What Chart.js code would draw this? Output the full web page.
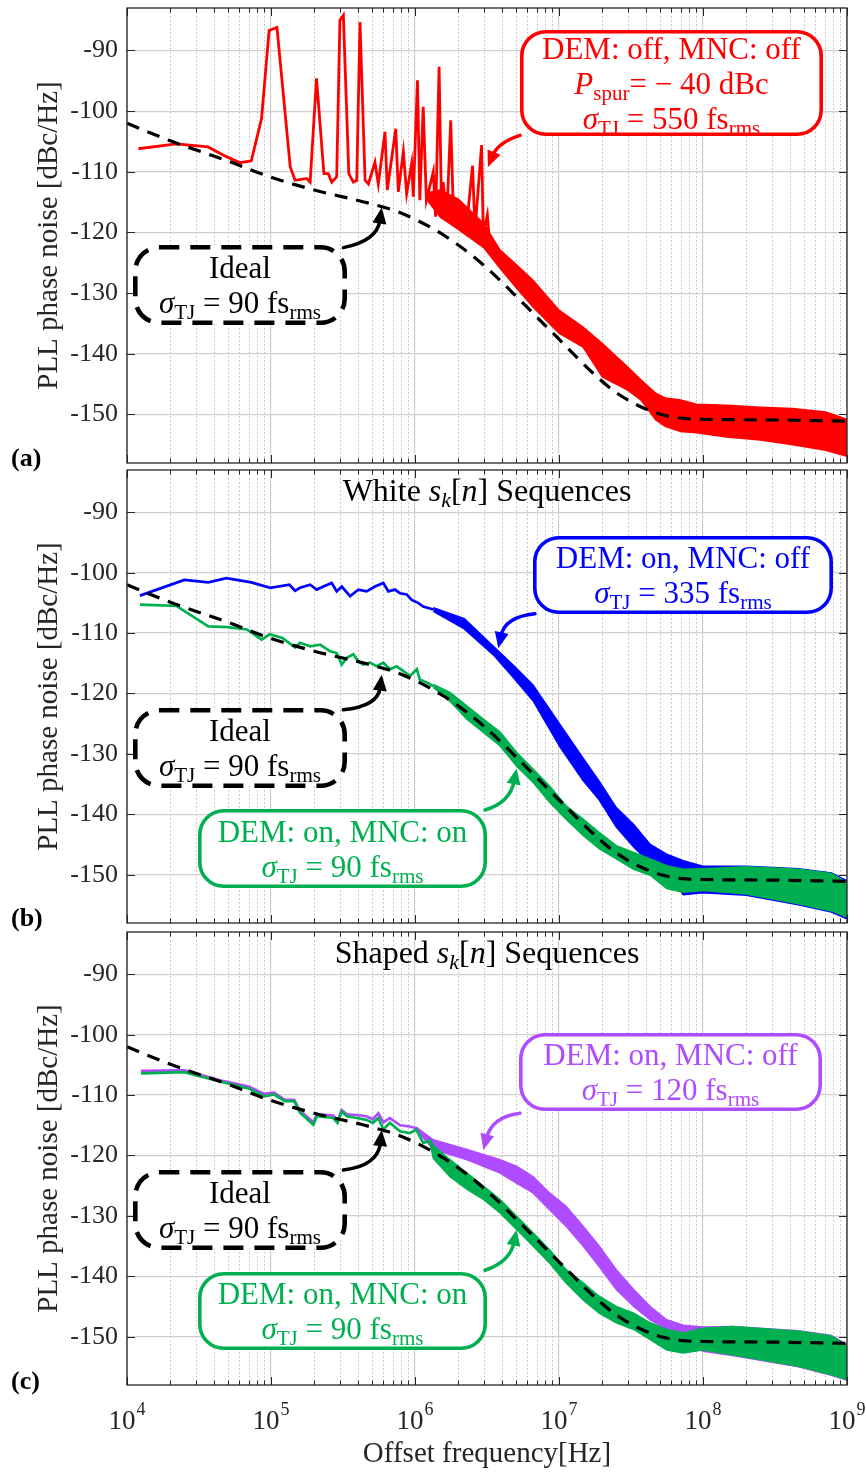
<!DOCTYPE html>
<html><head><meta charset="utf-8">
<script src="https://cdn.jsdelivr.net/npm/chart.js@4.4.0/dist/chart.umd.min.js"></script>
<style>
html,body{margin:0;padding:0;background:#fff;}
#page{position:relative;width:866px;height:1473px;overflow:hidden;font-family:"Liberation Serif","Times New Roman",serif;}
canvas{position:absolute;left:0;}
.box{position:absolute;box-sizing:border-box;display:flex;flex-direction:column;justify-content:center;align-items:center;font-size:31px;line-height:35px;white-space:nowrap;}
.box svg{position:absolute;left:0;top:0;overflow:visible;}
.box .l{position:relative;}
.sb{font-size:0.68em;vertical-align:-0.28em;line-height:0;}
.lbl{position:absolute;left:11px;font-weight:bold;font-size:26px;line-height:30px;color:#000;}
.ttl{position:absolute;left:127px;width:720px;text-align:center;font-size:32px;line-height:34px;color:#000;}
</style></head>
<body><div id="page">
<canvas id="ca" width="866" height="466" style="top:0px"></canvas>
<canvas id="cb" width="866" height="462" style="top:466px"></canvas>
<canvas id="cc" width="866" height="545" style="top:928px"></canvas>
<div class="ttl" style="top:473px">White <i>s</i><span class="sb"><i>k</i></span>[<i>n</i>] Sequences</div>
<div class="ttl" style="top:935px">Shaped <i>s</i><span class="sb"><i>k</i></span>[<i>n</i>] Sequences</div>
<div class="lbl" style="top:443px">(a)</div>
<div class="lbl" style="top:903px">(b)</div>
<div class="lbl" style="top:1366px">(c)</div>
</div>
<script>
// ---------- axes ----------
const xMajorTicks = [1e4, 1e5, 1e6, 1e7, 1e8, 1e9];
const xMinorSteps = [2, 3, 4, 5, 6, 7, 8, 9];
const yTicks = [-150, -140, -130, -120, -110, -100, -90];
const yMin = -158, yMax = -83;

// ---------- ideal (dashed black, same in all panels) ----------
const idealFreq = [1e4, 2e4, 5e4, 1e5, 2e5, 5e5, 8e5, 1.6e6, 3e6, 5.6e6, 1e7, 1.8e7, 2.5e7, 3.6e7, 5.3e7, 7.7e7, 1e8, 3e8, 1e9];
const idealDb   = [-102, -104.9, -108.2, -110.9, -113, -115.3, -116.8, -120.5, -125.4, -131.6, -137.6, -143.6, -146.4, -148.6, -150.1, -150.7, -150.8, -150.9, -151.1];

// ---------- panel (a): DEM off, MNC off (red) ----------
const redLineFreq = [1.2e4, 2.2e4, 3.65e4, 4.9e4, 6.1e4, 7.3e4, 8.6e4, 9.7e4, 1.1e5, 1.36e5, 1.47e5, 1.77e5, 1.87e5, 2.07e5, 2.33e5, 2.5e5, 2.64e5, 2.86e5, 3.01e5, 3.18e5, 3.47e5, 3.73e5, 3.94e5, 4.15e5, 4.5e5, 4.75e5, 5.27e5, 5.56e5, 6.19e5, 6.42e5, 7.35e5, 7.66e5, 8.3e5, 8.75e5, 9.48e5, 9.73e5, 1.04e6, 1.08e6, 1.14e6, 1.2e6, 1.34e6, 1.39e6, 1.47e6, 1.53e6, 1.57e6, 1.66e6, 1.77e6, 1.85e6, 2.16e6, 2.28e6, 2.51e6, 2.61e6, 2.9e6, 2.98e6, 3.18e6, 3.31e6];
const redLineDb   = [-106.2, -105.4, -105.9, -107.5, -108.5, -108.2, -101.2, -86.7, -86.2, -109.2, -111.4, -111.1, -111.7, -94.6, -110.3, -110.3, -111.7, -110.8, -85.0, -84.2, -110.3, -111.7, -111.4, -85.3, -111.4, -112.0, -108.4, -112.0, -103.4, -113.0, -102.9, -113.3, -106.7, -113.6, -108.6, -114.1, -94.9, -114.7, -99.3, -114.7, -110.0, -117.4, -92.7, -116.9, -111.7, -118.0, -101.5, -117.4, -115.8, -119.1, -109.0, -119.7, -105.6, -120.3, -117.1, -122.2];
const redBandFreq = [1.2e6, 1.5e6, 2e6, 3e6, 3.9e6, 5e6, 6.6e6, 1e7, 1.47e7, 2e7, 3e7, 3.7e7, 4.7e7, 5.5e7, 7e7, 9e7, 1.46e8, 2.5e8, 4.2e8, 7.1e8, 1e9];
const redBandHi   = [-113.5, -113, -114.5, -118.5, -122.9, -125.2, -127.9, -132.8, -135.6, -138.3, -142.2, -144.3, -146.5, -147.3, -147.6, -148.3, -148.5, -148.8, -149.0, -149.6, -150.8];
const redBandLo   = [-114.5, -117.5, -119.5, -122.5, -125.9, -129, -132.3, -136.6, -138.9, -143.8, -146, -147.6, -150.9, -152, -152.8, -153, -153.7, -154.2, -155, -155.9, -156.9];

// ---------- panel (b): white sequences ----------
const blueLineFreq = [1.23e4, 2.5e4, 3.67e4, 4.9e4, 7.3e4, 9.9e4, 1.34e5, 1.47e5, 1.59e5, 1.87e5, 2.08e5, 2.31e5, 2.64e5, 2.86e5, 3.1e5, 3.54e5, 4.04e5, 4.61e5, 5.27e5, 6.03e5, 6.53e5, 7.27e5, 7.87e5, 8.75e5, 9.49e5, 1.05e6, 1.14e6, 1.34e6];
const blueLineDb   = [-103.8, -101.2, -101.6, -100.9, -101.6, -102.5, -102.0, -103.0, -102.5, -102.0, -102.8, -102.3, -101.7, -103.1, -102.3, -103.9, -102.8, -103.1, -102.3, -101.7, -103.1, -102.8, -103.4, -103.6, -104.5, -105.0, -105.6, -106.1];
const blueBandFreq = [1.34e6, 2.2e6, 3.5e6, 4.8e6, 6.6e6, 1.02e7, 1.47e7, 1.9e7, 2.5e7, 3.3e7, 4.3e7, 5.6e7, 7.3e7, 1e8, 2e8, 4.6e8, 7.8e8, 1e9];
const blueBandHi   = [-105.8, -107.6, -112.2, -115.3, -118.6, -125.2, -130.7, -134.5, -138.9, -141.7, -145.0, -146.6, -147.7, -148.6, -148.6, -149.0, -149.7, -151.0];
const blueBandLo   = [-106.4, -109.3, -113.6, -117.3, -121.2, -128.9, -134.4, -137.6, -142.1, -145.4, -148.1, -149.7, -153.3, -153.0, -153.4, -155.0, -156.2, -157.3];

const greenBLineFreq = [1.23e4, 2.2e4, 3.67e4, 5e4, 6.8e4, 8.6e4, 9.8e4, 1.2e5, 1.47e5, 1.59e5, 1.87e5, 2.19e5, 2.57e5, 2.86e5, 3.1e5, 3.36e5, 3.73e5, 4.04e5, 4.37e5, 4.87e5, 5.42e5, 6.03e5, 6.7e5, 7.46e5, 8.3e5, 9.23e5, 1.03e6, 1.08e6, 1.21e6, 1.34e6];
const greenBLineDb   = [-105.3, -105.5, -108.9, -109.0, -109.4, -111.1, -110.2, -110.8, -112.4, -111.6, -112.2, -111.9, -113.0, -113.3, -115.2, -114.1, -113.5, -114.7, -115.2, -114.9, -115.5, -114.9, -116.0, -115.5, -116.3, -117.1, -116.0, -117.7, -118.2, -118.8];
const greenBBandFreq = [1.34e6, 1.75e6, 2.3e6, 3e6, 3.9e6, 5.1e6, 6.6e6, 8.6e6, 1.12e7, 1.47e7, 1.9e7, 2.5e7, 3.3e7, 4.3e7, 5.6e7, 7.3e7, 1e8, 2e8, 4.6e8, 7.8e8, 1e9];
const greenBBandHi   = [-118.5, -119.8, -122.1, -124.3, -126.4, -129.8, -132.5, -135.3, -138.6, -140.8, -143.0, -145.2, -146.3, -147.4, -148.5, -149.1, -149.0, -148.7, -149.1, -149.8, -151.3];
const greenBBandLo   = [-119.0, -121.3, -124.3, -126.5, -128.7, -132.1, -134.7, -138.0, -140.8, -143.5, -145.7, -147.4, -149.1, -150.1, -152.3, -152.9, -152.6, -153.2, -154.8, -156.0, -157.0];

// ---------- panel (c): shaped sequences ----------
const purpleLineFreq = [1.25e4, 2.5e4, 4.5e4, 7e4, 9e4, 1.05e5, 1.25e5, 1.45e5, 1.59e5, 1.97e5, 2.08e5, 2.7e5, 2.9e5, 3.1e5, 3.36e5, 3.94e5, 4.6e5, 5.1e5, 5.56e5, 6.03e5, 6.7e5, 7.87e5, 9.2e5, 1.02e6];
const purpleLineDb   = [-106.0, -105.9, -107.6, -108.6, -109.8, -109.6, -110.8, -110.8, -112.6, -114.5, -113.2, -113.4, -114.2, -112.5, -113.2, -113.3, -113.5, -114.0, -113.0, -114.5, -113.8, -115.0, -115.2, -115.5];
const purpleBandFreq = [1.02e6, 1.34e6, 2.3e6, 3.9e6, 5.1e6, 6.6e6, 8.6e6, 1.12e7, 1.47e7, 1.9e7, 2.5e7, 3.3e7, 4.3e7, 5.6e7, 7.3e7, 1e8, 1.6e8, 4.6e8, 7.8e8, 1e9];
const purpleBandHi   = [-115.3, -117.4, -119.0, -120.7, -121.8, -123.5, -126.2, -128.4, -131.7, -135.0, -138.9, -142.2, -145.0, -147.2, -148.1, -148.4, -148.3, -149.0, -149.8, -151.3];
const purpleBandLo   = [-115.8, -119.0, -120.7, -122.9, -124.6, -126.2, -129.0, -131.7, -135.0, -138.4, -142.2, -145.0, -147.2, -148.8, -150.7, -152.4, -153.1, -155.0, -156.4, -157.2];

const greenCLineFreq = [1.25e4, 2.5e4, 4.5e4, 7e4, 9e4, 1.05e5, 1.25e5, 1.45e5, 1.59e5, 1.97e5, 2.08e5, 2.7e5, 2.9e5, 3.1e5, 3.36e5, 3.94e5, 4.6e5, 5.1e5, 5.56e5, 6.03e5, 6.7e5, 7.87e5, 9.2e5, 1.02e6, 1.14e6, 1.27e6];
const greenCLineDb   = [-106.4, -106.2, -107.8, -108.9, -110.2, -109.9, -111.0, -111.0, -112.9, -114.9, -113.5, -113.8, -114.6, -112.7, -113.5, -113.8, -114.1, -114.6, -113.8, -115.7, -114.6, -116.0, -116.3, -115.7, -117.9, -117.6];
const greenCBandFreq = [1.27e6, 1.34e6, 1.75e6, 2.3e6, 3e6, 3.9e6, 5.1e6, 6.6e6, 8.6e6, 1.12e7, 1.47e7, 1.9e7, 2.5e7, 3.3e7, 4.3e7, 5.6e7, 7.3e7, 1e8, 1.6e8, 4.6e8, 7.8e8, 1e9];
const greenCBandHi   = [-117.3, -118.3, -120.7, -122.9, -125.1, -127.3, -130.1, -132.8, -135.6, -138.9, -141.1, -143.3, -145.0, -146.1, -147.7, -148.8, -149.4, -148.6, -148.3, -149.1, -149.9, -151.5];
const greenCBandLo   = [-117.9, -120.5, -123.5, -125.6, -127.3, -129.5, -132.3, -135.0, -137.8, -141.1, -143.9, -146.1, -147.7, -148.8, -150.5, -152.2, -152.7, -152.2, -153.0, -154.9, -156.3, -157.1];

// ---------- colours ----------
const RED = '#ff0000', BLUE = '#0000ff', GREEN = '#00b050', PURPLE = '#b04cff', BLACK = '#000000';
const FONT = '"Liberation Serif", "Times New Roman", serif';

// ---------- helpers ----------
function pts(fs, ds) { return fs.map((f, i) => ({x: f, y: ds[i]})); }
function trace(color, lf, ld, bf, bh, bl, order, lw) {
  return [
    {data: pts(lf, ld), borderColor: color, borderWidth: lw, order},
    {data: pts(bf, bh), borderColor: color, borderWidth: 1.5, order},
    {data: pts(bf, bl), borderColor: color, borderWidth: 1.5, fill: '-1', backgroundColor: color, order}
  ];
}
function idealSet() {
  return {data: pts(idealFreq, idealDb), borderColor: BLACK, borderWidth: 3.2, borderDash: [13, 9], cubicInterpolationMode: 'monotone', order: 0};
}

function makeDecor(arrows, xLabels) {
  return {
    id: 'decor',
    beforeDatasetsDraw(chart) {
      const {ctx, chartArea: a, scales: {x}} = chart;
      ctx.save();
      ctx.strokeStyle = '#bdbdbd'; ctx.lineWidth = 1; ctx.setLineDash([1.5, 2.5]);
      for (let i = 0; i < xMajorTicks.length - 1; i++) {
        for (const k of xMinorSteps) {
          const p = Math.round(x.getPixelForValue(k * xMajorTicks[i])) + 0.5;
          ctx.beginPath(); ctx.moveTo(p, a.top); ctx.lineTo(p, a.bottom); ctx.stroke();
        }
      }
      ctx.restore();
    },
    afterDraw(chart) {
      const {ctx, chartArea: a, scales: {x, y}} = chart;
      ctx.save();
      ctx.strokeStyle = '#262626'; ctx.lineWidth = 1.3; ctx.setLineDash([]);
      ctx.strokeRect(a.left, a.top, a.width, a.height);
      ctx.lineWidth = 1;
      ctx.beginPath();
      for (let i = 0; i < xMajorTicks.length; i++) {
        const p = Math.round(x.getPixelForValue(xMajorTicks[i])) + 0.5;
        ctx.moveTo(p, a.bottom); ctx.lineTo(p, a.bottom - 8);
        ctx.moveTo(p, a.top); ctx.lineTo(p, a.top + 8);
        if (i < xMajorTicks.length - 1) {
          for (const k of xMinorSteps) {
            const q = Math.round(x.getPixelForValue(k * xMajorTicks[i])) + 0.5;
            ctx.moveTo(q, a.bottom); ctx.lineTo(q, a.bottom - 4.5);
            ctx.moveTo(q, a.top); ctx.lineTo(q, a.top + 4.5);
          }
        }
      }
      for (const v of yTicks) {
        const p = Math.round(y.getPixelForValue(v)) + 0.5;
        ctx.moveTo(a.left, p); ctx.lineTo(a.left + 8, p);
        ctx.moveTo(a.right, p); ctx.lineTo(a.right - 8, p);
      }
      ctx.stroke();
      for (const ar of arrows) {
        const p0 = [x.getPixelForValue(ar.from[0]), y.getPixelForValue(ar.from[1])];
        const c = [x.getPixelForValue(ar.ctrl[0]), y.getPixelForValue(ar.ctrl[1])];
        const p2 = [x.getPixelForValue(ar.to[0]), y.getPixelForValue(ar.to[1])];
        const ang = Math.atan2(p2[1] - c[1], p2[0] - c[0]);
        const L = 16, W = 7;
        const e = [p2[0] - Math.cos(ang) * L * 0.8, p2[1] - Math.sin(ang) * L * 0.8];
        ctx.strokeStyle = ar.color; ctx.fillStyle = ar.color; ctx.lineWidth = 3.5; ctx.lineCap = 'round';
        ctx.beginPath(); ctx.moveTo(p0[0], p0[1]); ctx.quadraticCurveTo(c[0], c[1], e[0], e[1]); ctx.stroke();
        const bx = p2[0] - Math.cos(ang) * L, by = p2[1] - Math.sin(ang) * L;
        ctx.beginPath();
        ctx.moveTo(p2[0], p2[1]);
        ctx.lineTo(bx + Math.sin(ang) * W, by - Math.cos(ang) * W);
        ctx.lineTo(bx - Math.sin(ang) * W, by + Math.cos(ang) * W);
        ctx.closePath(); ctx.fill();
      }
      if (xLabels) {
        ctx.fillStyle = '#262626'; ctx.textAlign = 'left'; ctx.textBaseline = 'alphabetic';
        for (const v of xMajorTicks) {
          const ex = String(Math.round(Math.log10(v)));
          ctx.font = '27px ' + FONT; const w1 = ctx.measureText('10').width;
          ctx.font = '18px ' + FONT; const w2 = ctx.measureText(ex).width;
          const s = x.getPixelForValue(v) - (w1 + w2 + 1) / 2;
          ctx.font = '27px ' + FONT; ctx.fillText('10', s, a.bottom + 44);
          ctx.font = '18px ' + FONT; ctx.fillText(ex, s + w1 + 1, a.bottom + 30);
        }
      }
      ctx.restore();
    }
  };
}

function makeChart(id, padTop, xAxisH, datasets, arrows, showX) {
  return new Chart(document.getElementById(id), {
    type: 'line',
    data: {datasets},
    options: {
      responsive: false, animation: false, devicePixelRatio: 1,
      layout: {padding: {top: padTop, left: 0, right: 19, bottom: 0}},
      plugins: {legend: {display: false}, tooltip: {enabled: false}},
      elements: {point: {radius: 0}, line: {tension: 0}},
      scales: {
        x: {
          type: 'logarithmic', min: 1e4, max: 1e9,
          afterBuildTicks: s => { s.ticks = xMajorTicks.map(v => ({value: v})); },
          ticks: {display: false},
          grid: {color: '#d0d0d0', lineWidth: 1.2, drawTicks: false},
          border: {display: false},
          title: showX ? {display: true, text: 'Offset frequency[Hz]', color: '#262626', font: {family: FONT, size: 29}, padding: {top: 0, bottom: 1}} : {display: false},
          afterFit: s => { s.height = xAxisH; s.paddingLeft = 0; s.paddingRight = 0; }
        },
        y: {
          type: 'linear', min: yMin, max: yMax,
          afterBuildTicks: s => { s.ticks = yTicks.map(v => ({value: v})); },
          ticks: {color: '#262626', font: {family: FONT, size: 26}, padding: 9, callback: v => String(v)},
          grid: {color: '#d0d0d0', lineWidth: 1.2, drawTicks: false},
          border: {display: false},
          title: {display: true, text: 'PLL phase noise [dBc/Hz]', color: '#262626', font: {family: FONT, size: 29}, padding: {top: 32, bottom: 0}},
          afterFit: s => { s.width = 127; s.paddingTop = 0; s.paddingBottom = 0; }
        }
      }
    },
    plugins: [makeDecor(arrows, showX)]
  });
}

// ---------- panels ----------
makeChart('ca', 8, 3,
  [idealSet()].concat(trace(RED, redLineFreq, redLineDb, redBandFreq, redBandHi, redBandLo, 1, 2.8)),
  [{from: [5.36e6, -104.0], ctrl: [3.77e6, -105.2], to: [3.21e6, -109.2], color: RED},
   {from: [3.18e5, -122.5], ctrl: [5.45e5, -121.4], to: [5.87e5, -115.9], color: BLACK}],
  false);

makeChart('cb', 4, 5,
  [idealSet()]
    .concat(trace(GREEN, greenBLineFreq, greenBLineDb, greenBBandFreq, greenBBandHi, greenBBandLo, 1, 2.7))
    .concat(trace(BLUE, blueLineFreq, blueLineDb, blueBandFreq, blueBandHi, blueBandLo, 2, 2.7)),
  [{from: [6.81e6, -106.8], ctrl: [4.22e6, -107.3], to: [3.79e6, -112.5], color: BLUE},
   {from: [3.18e5, -122.7], ctrl: [5.54e5, -122.1], to: [5.87e5, -116.9], color: BLACK},
   {from: [3.06e6, -139.3], ctrl: [4.57e6, -138.1], to: [5.08e6, -132.4], color: GREEN}],
  false);

makeChart('cc', 4, 88,
  [idealSet()]
    .concat(trace(GREEN, greenCLineFreq, greenCLineDb, greenCBandFreq, greenCBandHi, greenCBandLo, 1, 2.7))
    .concat(trace(PURPLE, purpleLineFreq, purpleLineDb, purpleBandFreq, purpleBandHi, purpleBandLo, 2, 2.7)),
  [{from: [5.36e6, -113.0], ctrl: [3.43e6, -113.6], to: [2.98e6, -119.1], color: PURPLE},
   {from: [3.18e5, -122.4], ctrl: [5.54e5, -121.7], to: [5.87e5, -115.8], color: BLACK},
   {from: [3.06e6, -139.0], ctrl: [4.57e6, -137.6], to: [5.08e6, -132.3], color: GREEN}],
  true);

// ---------- annotation boxes ----------
const SIG = '<i>σ</i><span class="sb">TJ</span>';
const RMS = 'fs<span class="sb">rms</span>';
const boxes = [
  {l: 520, t: 30, w: 303, h: 106, c: RED, lines: ['DEM: off, MNC: off', '<i>P</i><span class="sb">spur</span>= − 40 dBc', SIG + ' = 550 ' + RMS]},
  {l: 133, t: 245, w: 214, h: 80, c: BLACK, dash: true, lines: ['Ideal', SIG + ' = 90 ' + RMS]},
  {l: 533, t: 536, w: 300, h: 78, c: BLUE, lines: ['DEM: on, MNC: off', SIG + ' = 335 ' + RMS]},
  {l: 133, t: 708, w: 214, h: 80, c: BLACK, dash: true, lines: ['Ideal', SIG + ' = 90 ' + RMS]},
  {l: 198, t: 809, w: 289, h: 79, c: GREEN, lines: ['DEM: on, MNC: on', SIG + ' = 90 ' + RMS]},
  {l: 519, t: 1033, w: 303, h: 78, c: PURPLE, lines: ['DEM: on, MNC: off', SIG + ' = 120 ' + RMS]},
  {l: 133, t: 1170, w: 214, h: 80, c: BLACK, dash: true, lines: ['Ideal', SIG + ' = 90 ' + RMS]},
  {l: 198, t: 1272, w: 289, h: 78, c: GREEN, lines: ['DEM: on, MNC: on', SIG + ' = 90 ' + RMS]}
];
const page = document.getElementById('page');
for (const b of boxes) {
  const d = document.createElement('div');
  d.className = 'box';
  d.style.cssText = `left:${b.l}px;top:${b.t}px;width:${b.w}px;height:${b.h}px;color:${b.c};`;
  const sw = b.dash ? 4.6 : 3.6;
  d.innerHTML = `<svg width="${b.w}" height="${b.h}"><rect x="${sw/2}" y="${sw/2}" width="${b.w - sw}" height="${b.h - sw}" rx="24" ry="24" fill="#fff" stroke="${b.c}" stroke-width="${sw}" ${b.dash ? 'stroke-dasharray="20 11"' : ''}/></svg>` +
    b.lines.map(s => `<span class="l">${s}</span>`).join('');
  page.appendChild(d);
}
</script>
</body></html>
